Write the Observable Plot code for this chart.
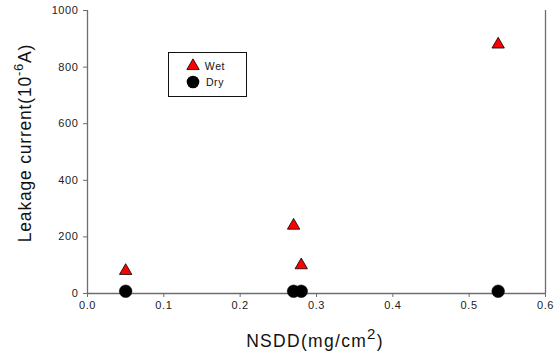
<!DOCTYPE html>
<html>
<head>
<meta charset="utf-8">
<script src="https://cdn.jsdelivr.net/npm/d3@7"></script>
<script src="https://cdn.jsdelivr.net/npm/@observablehq/plot@0.6"></script>
<style>
  html, body { margin: 0; padding: 0; background: #fff; }
  #chart svg { display: block; }
</style>
</head>
<body>
<div id="chart"></div>
<script>
// Data
const wetX = [0.05, 0.27, 0.28, 0.538];
const wetY = [80, 240, 100, 880];
const dryX = [0.05, 0.27, 0.28, 0.538];
const dryY = [8, 8, 8, 8];
const xTicks = [0, 0.1, 0.2, 0.3, 0.4, 0.5, 0.6];
const yTicks = [0, 200, 400, 600, 800, 1000];
const seriesNames = ["Wet", "Dry"];

const wet = wetX.map((x, i) => ({x, y: wetY[i]}));
const dry = dryX.map((x, i) => ({x, y: dryY[i]}));

const axisColor = "#6e6e6e";
const font = "'Liberation Sans', Arial, sans-serif";

const svg = Plot.plot({
  width: 558,
  height: 354,
  marginLeft: 87,
  marginRight: 13,
  marginTop: 10,
  marginBottom: 61,
  style: {fontFamily: font, background: "#fff"},
  x: {domain: [0, 0.6]},
  y: {domain: [0, 1000]},
  marks: [
    Plot.ruleY([0], {stroke: axisColor, strokeWidth: 1.3}),
    Plot.ruleX([0], {stroke: axisColor, strokeWidth: 1.3}),
    Plot.ruleX([0.6], {stroke: axisColor, strokeWidth: 1.3}),
    Plot.axisX({ticks: xTicks, tickFormat: d3.format(".1f"), tickSize: 4, tickPadding: 4,
      stroke: axisColor, fill: "#222", fontSize: 11, label: null}),
    Plot.axisY({ticks: yTicks, tickFormat: d => String(d), tickSize: 4, tickPadding: 5,
      stroke: axisColor, fill: "#222", fontSize: 11, label: null}),
    Plot.dot(dry, {x: "x", y: "y", r: 6.3, fill: "black", stroke: "black", strokeWidth: 0.5}),
    Plot.dot(wet, {x: "x", y: "y", symbol: "triangle", r: 4.6, fill: "#ff0000", stroke: "#000", strokeWidth: 0.8})
  ]
});

const s = d3.select(svg);
s.selectAll("g[aria-label='x-axis tick label'] text, g[aria-label='y-axis tick label'] text")
  .style("letter-spacing", "0.6px");

// Y axis title
const yt = s.append("text")
  .attr("transform", "translate(31,143) rotate(-90)")
  .attr("text-anchor", "middle")
  .attr("font-family", font)
  .attr("font-size", 17.5)
  .attr("letter-spacing", "0.8px")
  .attr("fill", "#111");
yt.append("tspan").text("Leakage current(10");
yt.append("tspan").attr("font-size", 13).attr("dy", -8).text("-6");
yt.append("tspan").attr("dy", 8).text("A)");

// X axis title
const xt = s.append("text")
  .attr("x", 315).attr("y", 347)
  .attr("text-anchor", "middle")
  .attr("font-family", font)
  .attr("font-size", 17.5)
  .attr("letter-spacing", "1.3px")
  .attr("fill", "#111");
xt.append("tspan").text("NSDD(mg/cm");
xt.append("tspan").attr("font-size", 15).attr("dy", -8).text("2");
xt.append("tspan").attr("dy", 8).text(")");

// Legend
const lg = s.append("g");
lg.append("rect").attr("x", 168.5).attr("y", 52.5).attr("width", 78).attr("height", 44)
  .attr("fill", "white").attr("stroke", "#111").attr("stroke-width", 1);
lg.append("path").attr("d", d3.symbol(d3.symbolTriangle, 4.6 * 4.6 * Math.PI)())
  .attr("transform", "translate(193,66)").attr("fill", "#ff0000").attr("stroke", "#000").attr("stroke-width", 0.8);
lg.append("circle").attr("cx", 193).attr("cy", 82).attr("r", 6.3).attr("fill", "black");
seriesNames.forEach((name, i) => {
  lg.append("text").attr("x", 215).attr("y", 70 + i * 16)
    .attr("font-family", font).attr("font-size", 10.5).attr("letter-spacing", "0.6px")
    .attr("fill", "#111").text(name);
});

document.getElementById("chart").appendChild(svg);
</script>
</body>
</html>
